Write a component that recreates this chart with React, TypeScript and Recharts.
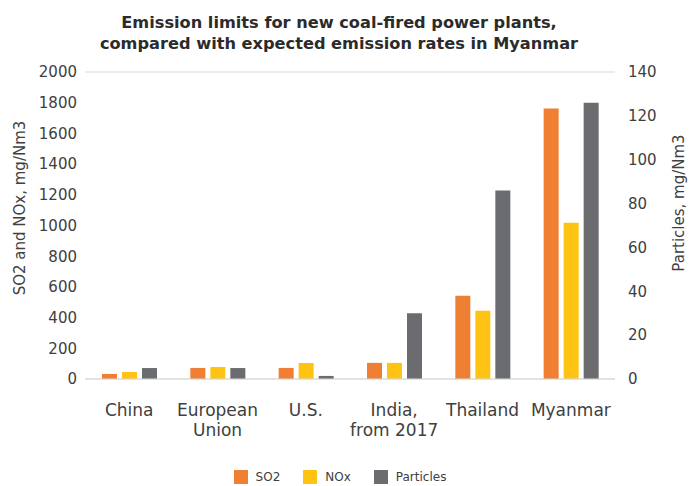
import React from "react";
import {
  ComposedChart,
  Bar,
  XAxis,
  YAxis,
  CartesianGrid,
  Legend,
} from "recharts";

// Categories ("\n" marks where the tick label wraps)
const CATEGORIES = [
  "China",
  "European\nUnion",
  "U.S.",
  "India,\nfrom 2017",
  "Thailand",
  "Myanmar",
];

// mg/Nm3, left axis
const SO2 = [33, 72, 72, 105, 543, 1762];
const NOX = [46, 78, 104, 105, 445, 1018];
// mg/Nm3, right axis
const PARTICLES = [5, 5, 1.4, 30, 86, 126];

const LEFT_TICKS = [0, 200, 400, 600, 800, 1000, 1200, 1400, 1600, 1800, 2000];
const RIGHT_TICKS = [0, 20, 40, 60, 80, 100, 120, 140];

const SERIES = [
  { key: "so2", name: "SO2", color: "#EE7F33", axis: "left" },
  { key: "nox", name: "NOx", color: "#FFC313", axis: "left" },
  { key: "particles", name: "Particles", color: "#6B6C70", axis: "right" },
];

const data = CATEGORIES.map((cat, i) => ({
  cat,
  so2: SO2[i],
  nox: NOX[i],
  particles: PARTICLES[i],
}));

const FONT = "'DejaVu Sans', sans-serif";
const TEXT = "#404040";

function CategoryTick(props: any) {
  const { x, y, payload } = props;
  const lines = String(payload.value).split("\n");
  return (
    <g transform={`translate(${x},${y})`}>
      <text textAnchor="middle" fill={TEXT} fontSize={17} fontFamily={FONT}>
        {lines.map((line, i) => (
          <tspan key={i} x={0} y={29 + i * 20}>
            {line}
          </tspan>
        ))}
      </text>
    </g>
  );
}

function LegendBox() {
  return (
    <div
      style={{
        display: "flex",
        justifyContent: "center",
        alignItems: "center",
        fontFamily: FONT,
        fontSize: 12,
        color: TEXT,
      }}
    >
      {SERIES.map((s, i) => (
        <div
          key={s.key}
          style={{ display: "flex", alignItems: "center", marginLeft: i ? 23 : 0 }}
        >
          <span style={{ width: 14, height: 14, background: s.color, marginRight: 8 }} />
          <span>{s.name}</span>
        </div>
      ))}
    </div>
  );
}

export default function App() {
  return (
    <div style={{ position: "absolute", left: 0, top: 0, width: 693, height: 486, background: "#fff" }}>
      <div
        style={{
          position: "absolute",
          left: 0,
          top: 11.5,
          width: 678,
          textAlign: "center",
          fontFamily: FONT,
          fontWeight: 700,
          fontSize: 16.2,
          lineHeight: "21px",
          color: "#2b2b2b",
        }}
      >
        Emission limits for new coal-fired power plants,
        <br />
        compared with expected emission rates in Myanmar
      </div>
      <ComposedChart
        width={693}
        height={486}
        data={data}
        margin={{ top: 72, right: 0, bottom: 59, left: 0 }}
        barSize={15}
        barGap={5}
      >
        <CartesianGrid vertical={false} stroke="#d9d9d9" strokeWidth={1.2} />
        <XAxis
          dataKey="cat"
          height={30}
          axisLine={{ stroke: "#d9d9d9", strokeWidth: 1.2 }}
          tickLine={false}
          tick={<CategoryTick />}
          interval={0}
        />
        <YAxis
          yAxisId="left"
          width={85}
          domain={[0, 2000]}
          ticks={LEFT_TICKS}
          axisLine={false}
          tickLine={false}
          tick={{ fill: TEXT, fontSize: 15, fontFamily: FONT }}
          label={{
            content: () => (
              <text
                transform="translate(20,208) rotate(-90)"
                textAnchor="middle"
                dominantBaseline="central"
                fill={TEXT}
                fontSize={15}
                fontFamily={FONT}
              >
                SO2 and NOx, mg/Nm3
              </text>
            ),
          }}
        />
        <YAxis
          yAxisId="right"
          orientation="right"
          width={78}
          domain={[0, 140]}
          ticks={RIGHT_TICKS}
          axisLine={false}
          tickLine={false}
          tickMargin={7}
          tick={{ fill: TEXT, fontSize: 15, fontFamily: FONT, textAnchor: "start" }}
          label={{
            content: () => (
              <text
                transform="translate(679,203) rotate(-90)"
                textAnchor="middle"
                dominantBaseline="central"
                fill={TEXT}
                fontSize={15}
                fontFamily={FONT}
              >
                Particles, mg/Nm3
              </text>
            ),
          }}
        />
        {SERIES.map((s) => (
          <Bar
            key={s.key}
            dataKey={s.key}
            name={s.name}
            yAxisId={s.axis}
            fill={s.color}
            isAnimationActive={false}
          />
        ))}
        <Legend
          content={<LegendBox />}
          wrapperStyle={{ position: "absolute", left: 0, width: 680, top: 470, height: 18 }}
        />
      </ComposedChart>
    </div>
  );
}
